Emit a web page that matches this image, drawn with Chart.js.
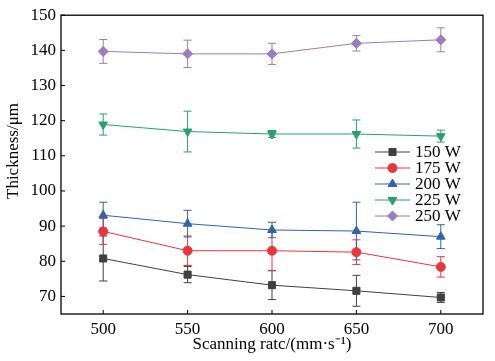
<!DOCTYPE html>
<html>
<head>
<meta charset="utf-8">
<script src="https://cdn.jsdelivr.net/npm/chart.js@4.4.1/dist/chart.umd.min.js"></script>
<style>
  html, body { margin: 0; padding: 0; background: #fff; }
  #wrap { width: 495px; height: 361px; }
</style>
</head>
<body>
<div id="wrap"><canvas id="chart"></canvas></div>
<script>
// scanning rate (mm/s)
const scanRates = [500, 550, 600, 650, 700];
const xTicks = [500, 550, 600, 650, 700];
const yTicks = [70, 80, 90, 100, 110, 120, 130, 140, 150];
const powerLabels = ['150 W', '175 W', '200 W', '225 W', '250 W'];

// thickness (um) and error bars, one pair per laser power
const thick150 = [80.8, 76.2, 73.2, 71.6, 69.7];
const err150   = [6.4, 2.3, 4.1, 4.4, 1.4];
const thick175 = [88.5, 83.0, 83.0, 82.6, 78.4];
const err175   = [3.7, 4.2, 5.6, 3.5, 2.9];
const thick200 = [93.1, 90.7, 88.9, 88.6, 87.0];
const err200   = [3.7, 3.8, 2.2, 8.2, 3.4];
const thick225 = [118.9, 116.9, 116.2, 116.2, 115.6];
const err225   = [3.0, 5.8, 1.0, 4.0, 1.7];
const thick250 = [139.7, 139.0, 139.0, 142.0, 143.0];
const err250   = [3.4, 3.9, 3.0, 2.2, 3.4];

const FONT = '"Liberation Serif", "Times New Roman", serif';

const series = [
    { vals: thick150, errs: err150, color: '#404040', style: 'rect', radius: 5, rot: 0 },
    { vals: thick175, errs: err175, color: '#e8363c', style: 'circle', radius: 4.5, rot: 0 },
    { vals: thick200, errs: err200, color: '#2f62ad', style: 'triangle', radius: 5, rot: 0 },
    { vals: thick225, errs: err225, color: '#27a06b', style: 'triangle', radius: 5, rot: 180 },
    { vals: thick250, errs: err250, color: '#9a7cbf', style: 'rectRot', radius: 5, rot: 0 },
];

const datasets = series.map((s, i) => ({
    label: powerLabels[i],
    data: scanRates.map((x, j) => ({ x: x, y: s.vals[j] })),
    errors: s.errs,
    borderColor: s.color,
    backgroundColor: s.color,
    borderWidth: 1,
    pointStyle: s.style,
    pointRotation: s.rot,
    pointRadius: s.radius,
    pointBorderWidth: 1,
    tension: 0,
}));

// error bars drawn under the markers
const errorBars = {
    id: 'errorBars',
    beforeDatasetsDraw(chart) {
        const ctx = chart.ctx;
        const ys = chart.scales.y;
        chart.data.datasets.forEach((ds, i) => {
            const meta = chart.getDatasetMeta(i);
            ctx.save();
            ctx.strokeStyle = ds.borderColor;
            ctx.lineWidth = 1;
            meta.data.forEach((pt, j) => {
                const v = ds.data[j].y, e = ds.errors[j];
                const top = ys.getPixelForValue(v + e);
                const bot = ys.getPixelForValue(v - e);
                ctx.beginPath();
                ctx.moveTo(pt.x, top); ctx.lineTo(pt.x, bot);
                ctx.moveTo(pt.x - 4, top); ctx.lineTo(pt.x + 4, top);
                ctx.moveTo(pt.x - 4, bot); ctx.lineTo(pt.x + 4, bot);
                ctx.stroke();
            });
            ctx.restore();
        });
    }
};

// box frame, inward ticks, y title, legend
const decorations = {
    id: 'decorations',
    afterDraw(chart) {
        const ctx = chart.ctx;
        const a = chart.chartArea;
        const xs = chart.scales.x, ys = chart.scales.y;
        ctx.save();
        ctx.strokeStyle = '#000';
        ctx.lineWidth = 1.3;
        ctx.strokeRect(a.left, a.top, a.right - a.left, a.bottom - a.top);

        ctx.lineWidth = 1;
        ctx.beginPath();
        xs.ticks.forEach(t => {
            const px = xs.getPixelForValue(t.value);
            ctx.moveTo(px, a.bottom); ctx.lineTo(px, a.bottom - 4);
        });
        ys.ticks.forEach(t => {
            const py = ys.getPixelForValue(t.value);
            ctx.moveTo(a.left, py); ctx.lineTo(a.left + 4, py);
        });
        ctx.stroke();

        ctx.fillStyle = '#000';
        ctx.font = '17px ' + FONT;
        ctx.translate(14, 151);
        ctx.rotate(-Math.PI / 2);
        ctx.textAlign = 'center';
        ctx.textBaseline = 'middle';
        ctx.fillText('Thickness/μm', 0, 0);
        ctx.restore();

        // legend
        ctx.save();
        chart.data.datasets.forEach((ds, i) => {
            const y = 152 + i * 16;
            ctx.strokeStyle = ds.borderColor;
            ctx.fillStyle = ds.backgroundColor;
            ctx.lineWidth = 1;
            ctx.beginPath();
            ctx.moveTo(375, y); ctx.lineTo(410, y);
            ctx.stroke();
            Chart.helpers.drawPoint(ctx, {
                pointStyle: ds.pointStyle,
                rotation: ds.pointRotation,
                radius: ds.pointRadius,
                borderWidth: 1,
            }, 392.5, y);
            ctx.fillStyle = '#000';
            ctx.font = '17px ' + FONT;
            ctx.textAlign = 'left';
            ctx.textBaseline = 'middle';
            ctx.fillText(ds.label, 415, y + 1);
        });
        ctx.restore();
    }
};

const config = {
    type: 'line',
    data: { datasets: datasets },
    options: {
        responsive: true,
        maintainAspectRatio: false,
        animation: false,
        layout: { padding: { top: 15, right: 12, left: 0, bottom: 0 } },
        plugins: {
            legend: { display: false },
            tooltip: { enabled: false },
        },
        scales: {
            x: {
                type: 'linear',
                min: 475,
                max: 725,
                afterBuildTicks: (scale) => { scale.ticks = xTicks.map(v => ({ value: v })); },
                afterFit: (scale) => { scale.height = 47; },
                grid: { display: false, drawTicks: false },
                border: { display: false },
                ticks: { color: '#000', padding: 5, maxRotation: 0, font: { family: FONT, size: 17 } },
                title: {
                    display: true,
                    text: 'Scanning ratc/(mm·s⁻¹)',
                    color: '#000',
                    font: { family: FONT, size: 17 },
                    padding: { top: 0, bottom: 6 },
                },
            },
            y: {
                min: 65,
                max: 150,
                afterBuildTicks: (scale) => { scale.ticks = yTicks.map(v => ({ value: v })); },
                afterFit: (scale) => { scale.width = 61; },
                grid: { display: false, drawTicks: false },
                border: { display: false },
                ticks: { color: '#000', padding: 5, font: { family: FONT, size: 17 } },
            },
        },
    },
    plugins: [errorBars, decorations],
};

const thicknessChart = new Chart(document.getElementById('chart'), config);
</script>
</body>
</html>
